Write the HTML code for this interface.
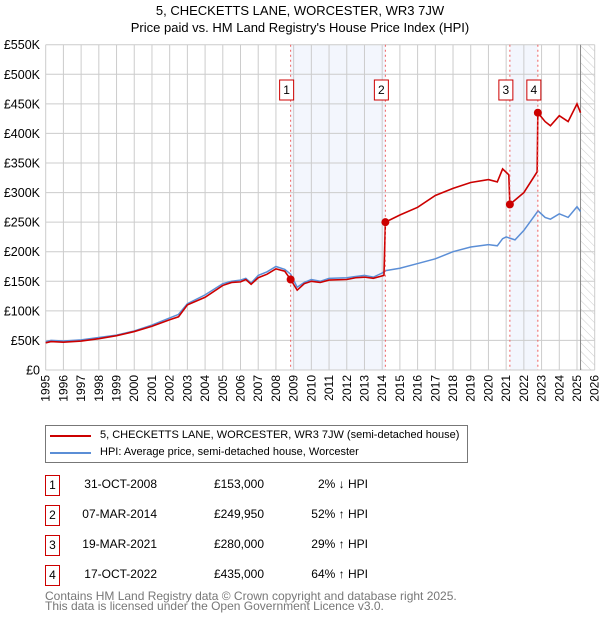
<!DOCTYPE html>
<html><head><meta charset="utf-8"><style>
body{margin:0;background:#fff;font-family:"Liberation Sans","DejaVu Sans",sans-serif;}
#wrap{position:relative;width:600px;height:620px;overflow:hidden;}
.t{position:absolute;font-size:12px;color:#000;white-space:nowrap;}
.box{position:absolute;width:13px;height:19px;border:1px solid #c00;font-size:12px;text-align:center;line-height:19px;}
</style></head><body><div id="wrap">
<div class="t" style="left:0;width:600px;text-align:center;top:3px;font-size:13px">5, CHECKETTS LANE, WORCESTER, WR3 7JW</div>
<div class="t" style="left:0;width:600px;text-align:center;top:20px;font-size:13px">Price paid vs. HM Land Registry's House Price Index (HPI)</div>
<svg id="chart" width="600" height="420" style="position:absolute;left:0;top:0">
<defs><pattern id="hatch" width="6" height="6" patternUnits="userSpaceOnUse" patternTransform="rotate(-45)"><line x1="0" y1="0" x2="0" y2="6" stroke="#ccc" stroke-width="1"/></pattern></defs>
<g id="bg"></g><g id="grid"></g><g id="lines"></g><g id="marks"></g><g id="axes"></g>
</svg>
<div style="position:absolute;left:45px;top:425px;width:421px;height:36px;border:1px solid #777;">
<div style="position:absolute;left:4px;top:9px;width:41px;height:2px;background:#c00"></div>
<div class="t" style="left:54px;top:3px;font-size:11px">5, CHECKETTS LANE, WORCESTER, WR3 7JW (semi-detached house)</div>
<div style="position:absolute;left:4px;top:26px;width:41px;height:2px;background:#5b8ed6"></div>
<div class="t" style="left:54px;top:20px;font-size:11px">HPI: Average price, semi-detached house, Worcester</div>
</div>
<div id="table"></div>
<div class="t" style="left:45px;top:589px;color:#777;font-size:12px">Contains HM Land Registry data © Crown copyright and database right 2025.</div>
<div class="t" style="left:45px;top:599px;color:#777;font-size:12px">This data is licensed under the Open Government Licence v3.0.</div>
</div>
<script>
const hpiYears=[1995,1995.3,1996,1997,1998,1999,2000,2001,2002,2002.5,2003,2004,2005,2005.5,2006,2006.3,2006.6,2007,2007.5,2008,2008.5,2008.83,2009.2,2009.6,2010,2010.5,2011,2012,2012.5,2013,2013.5,2014,2014.2,2015,2016,2017,2018,2019,2020,2020.5,2020.8,2021,2021.5,2022,2022.8,2023.2,2023.5,2024,2024.5,2025,2025.2];
const hpiValues=[48,50,49,51,55,59,66,76,88,94,112,127,146,150,152,155,147,160,166,175,170,162,140,148,153,150,155,156,158,160,157,164,168,172,180,188,200,208,212,210,222,225,220,236,269,258,255,264,258,276,268];
const redYears=[1995,1995.3,1996,1997,1998,1999,2000,2001,2002,2002.5,2003,2004,2005,2005.5,2006,2006.3,2006.6,2007,2007.5,2008,2008.5,2008.83,2009.2,2009.6,2010,2010.5,2011,2012,2012.5,2013,2013.5,2014.1,2014.18,2015,2016,2017,2018,2019,2020,2020.5,2020.8,2021.15,2021.21,2022,2022.75,2022.79,2023.2,2023.5,2024,2024.5,2025,2025.2];
const redValues=[46,48,47,49,53,58,65,74,85,90,110,123,143,148,149,153,145,156,162,171,167,153,135,146,150,148,152,153,156,157,155,160,250,262,275,295,307,317,322,318,340,330,280,300,335,435,420,413,430,420,450,435];
const saleYears=[2008.83,2014.18,2021.21,2022.79];
const salePrices=[153,249.95,280,435];
const saleLabels=["1","2","3","4"];
const saleDates=["31-OCT-2008","07-MAR-2014","19-MAR-2021","17-OCT-2022"];
const salePriceText=["£153,000","£249,950","£280,000","£435,000"];
const saleHpiText=["2% ↓ HPI","52% ↑ HPI","29% ↑ HPI","64% ↑ HPI"];
const yTicks=[0,50,100,150,200,250,300,350,400,450,500,550];
const yTickLabels=["£0","£50K","£100K","£150K","£200K","£250K","£300K","£350K","£400K","£450K","£500K","£550K"];
const xTicks=[1995,1996,1997,1998,1999,2000,2001,2002,2003,2004,2005,2006,2007,2008,2009,2010,2011,2012,2013,2014,2015,2016,2017,2018,2019,2020,2021,2022,2023,2024,2025,2026];

const X0=45.7,X1=594.7,Y0=370,Y1=44.7;
const xs=y=>X0+(y-1995)/31*(X1-X0);
const ys=v=>Y0-v/550*(Y0-Y1);
const NS="http://www.w3.org/2000/svg";
function mk(tag,parent,attrs){const e=document.createElementNS(NS,tag);for(const k in attrs)e.setAttribute(k,attrs[k]);document.getElementById(parent).appendChild(e);return e;}
let r=mk('rect','bg',{x:xs(saleYears[0]),y:Y1,width:xs(saleYears[1])-xs(saleYears[0]),height:Y0-Y1,fill:'#eef2fc',opacity:0.7});

r=mk('rect','bg',{x:xs(saleYears[2]),y:Y1,width:xs(saleYears[3])-xs(saleYears[2]),height:Y0-Y1,fill:'#eef2fc',opacity:0.7});

r=mk('rect','bg',{x:xs(2025.2),y:Y1,width:X1-xs(2025.2),height:Y0-Y1,fill:'url(#hatch)'});

xTicks.forEach((t,i)=>{const l=mk('line','grid',{x1:xs(t),x2:xs(t),y1:Y1,y2:Y0,stroke:'#ccc','stroke-width':1});

const tx=mk('text','axes',{transform:`translate(${xs(t)+4},${Y0+5}) rotate(-90)`,'text-anchor':'end','font-size':12,fill:'#000','font-family':'Liberation Sans, sans-serif'});
tx.textContent=t;});
yTicks.forEach((t,i)=>{const l=mk('line','grid',{x1:X0,x2:X1,y1:ys(t),y2:ys(t),stroke:'#ccc','stroke-width':1});

const tx=mk('text','axes',{x:40,y:ys(t)+4.5,'text-anchor':'end','font-size':12.5,fill:'#000','font-family':'Liberation Sans, sans-serif'});
tx.textContent=yTickLabels[i];});
let vl=mk('line','grid',{x1:xs(2025.2),x2:xs(2025.2),y1:Y1,y2:Y0,stroke:'#888','stroke-width':1});

let p=mk('polyline','lines',{points:hpiYears.map((y,i)=>xs(y)+','+ys(hpiValues[i])).join(' '),fill:'none',stroke:'#5b8ed6','stroke-width':1.5});

p=mk('polyline','lines',{points:redYears.map((y,i)=>xs(y)+','+ys(redValues[i])).join(' '),fill:'none',stroke:'#c00','stroke-width':1.6});

saleYears.forEach((y,i)=>{
const d=mk('line','marks',{x1:xs(y),x2:xs(y),y1:Y1,y2:Y0,stroke:'#f06060','stroke-width':1,'stroke-dasharray':'2,3'});

const c=mk('circle','marks',{cx:xs(y),cy:ys(salePrices[i]),r:4,fill:'#c00'});

const b=mk('rect','marks',{x:xs(y)-11,y:80,width:14,height:20,fill:'#fff',stroke:'#c00','stroke-width':1});

const t=mk('text','marks',{x:xs(y)-4,y:94,'text-anchor':'middle','font-size':12,fill:'#000','font-family':'Liberation Sans, sans-serif'});
t.textContent=saleLabels[i];
});
const tb=document.getElementById('table');
saleLabels.forEach((lab,i)=>{const top=475+i*30;
const row=document.createElement('div');
row.innerHTML=`<div class="box" style="left:45px;top:${top}px">${lab}</div>
<div class="t" style="right:443px;top:${top+2}px">${saleDates[i]}</div>
<div class="t" style="right:336px;top:${top+2}px">${salePriceText[i]}</div>
<div class="t" style="right:232px;top:${top+2}px">${saleHpiText[i]}</div>`;
tb.appendChild(row);});
</script></body></html>
